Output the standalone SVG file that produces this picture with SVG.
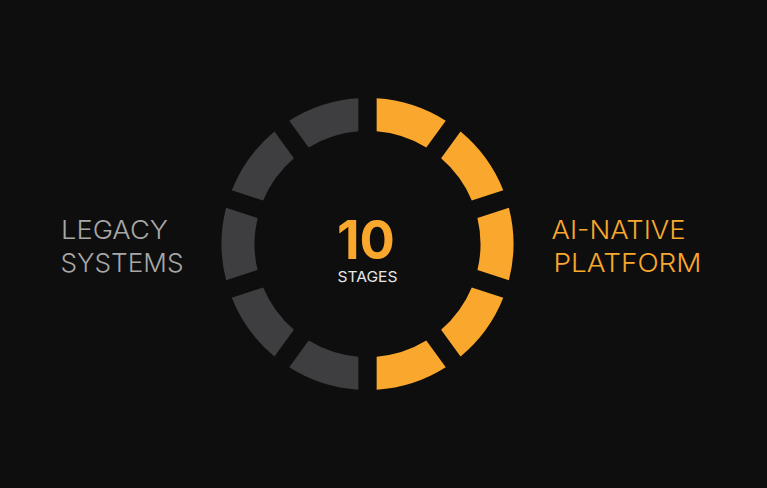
<svg xmlns="http://www.w3.org/2000/svg" width="767" height="488" viewBox="0 0 767 488">
<style>
.bg{fill:#0e0e0e}
.on{fill:#f9a72d}
.off{fill:#3e3e40}
.lbl{font-family:Inter,"Noto Sans","DejaVu Sans",sans-serif;font-weight:300;font-size:26px}
.num{font-family:Inter,"Noto Sans","DejaVu Sans",sans-serif;font-weight:700;font-size:54px;fill:#f9a72d}
.sub{font-family:Inter,"Noto Sans","DejaVu Sans",sans-serif;font-weight:400;font-size:15px;fill:#e6e6e6}
</style>
<rect class="bg" x="0" y="0" width="767" height="488"/>
<g id="ring" transform="translate(367.5,244)">
<path id="s0" class="on" d="M9.15,-145.71A146,146 0 0 1 78.25,-123.26L58.8,-96.5A113,113 0 0 0 9.15,-112.63Z"/>
<path id="s1" class="on" d="M93.05,-112.51A146,146 0 0 1 135.75,-53.73L104.29,-43.51A113,113 0 0 0 73.6,-85.74Z"/>
<path id="s2" class="on" d="M141.41,-36.32A146,146 0 0 1 141.41,36.32L109.94,26.1A113,113 0 0 0 109.94,-26.1Z"/>
<path id="s3" class="on" d="M135.75,53.73A146,146 0 0 1 93.05,112.51L73.6,85.74A113,113 0 0 0 104.29,43.51Z"/>
<path id="s4" class="on" d="M78.25,123.26A146,146 0 0 1 9.15,145.71L9.15,112.63A113,113 0 0 0 58.8,96.5Z"/>
<path id="s5" class="off" d="M-9.15,145.71A146,146 0 0 1 -78.25,123.26L-58.8,96.5A113,113 0 0 0 -9.15,112.63Z"/>
<path id="s6" class="off" d="M-93.05,112.51A146,146 0 0 1 -135.75,53.73L-104.29,43.51A113,113 0 0 0 -73.6,85.74Z"/>
<path id="s7" class="off" d="M-141.41,36.32A146,146 0 0 1 -141.41,-36.32L-109.94,-26.1A113,113 0 0 0 -109.94,26.1Z"/>
<path id="s8" class="off" d="M-135.75,-53.73A146,146 0 0 1 -93.05,-112.51L-73.6,-85.74A113,113 0 0 0 -104.29,-43.51Z"/>
<path id="s9" class="off" d="M-78.25,-123.26A146,146 0 0 1 -9.15,-145.71L-9.15,-112.63A113,113 0 0 0 -58.8,-96.5Z"/>
</g>
<g id="center">
<text class="num" x="366" y="258.5" text-anchor="middle" textLength="58" lengthAdjust="spacingAndGlyphs">10</text>
<text class="sub" x="367.5" y="282" text-anchor="middle" textLength="60" lengthAdjust="spacingAndGlyphs">STAGES</text>
</g>
<g id="legacy" fill="#a7a7a7">
<text class="lbl" x="61" y="239" textLength="107" lengthAdjust="spacingAndGlyphs">LEGACY</text>
<text class="lbl" x="60.5" y="271.5" textLength="123" lengthAdjust="spacingAndGlyphs">SYSTEMS</text>
</g>
<g id="ainative" fill="#f9a72d">
<text class="lbl" x="551.5" y="238.5" textLength="134" lengthAdjust="spacingAndGlyphs">AI-NATIVE</text>
<text class="lbl" x="553.5" y="271.5" textLength="148" lengthAdjust="spacingAndGlyphs">PLATFORM</text>
</g>
<g id="connectors"/>
</svg>
